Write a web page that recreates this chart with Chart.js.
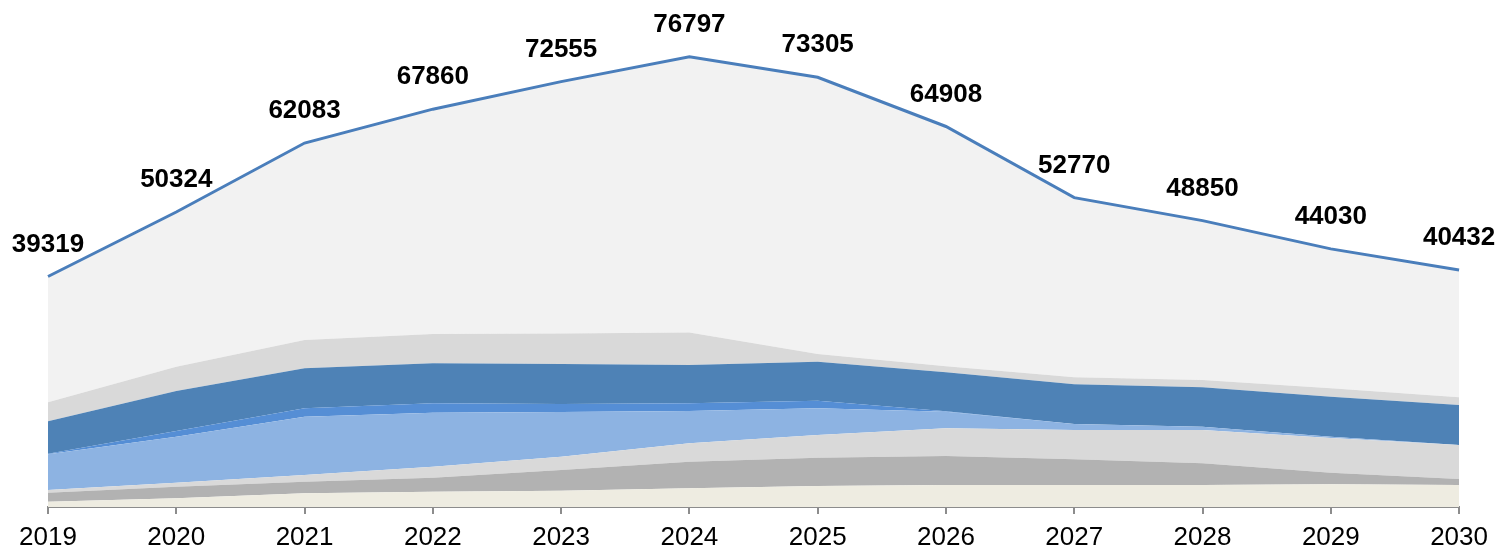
<!DOCTYPE html>
<html>
<head>
<meta charset="utf-8">
<title>Stacked area</title>
<script src="https://cdn.jsdelivr.net/npm/chart.js@4.4.1/dist/chart.umd.min.js"></script>
<style>
    html, body { margin: 0; padding: 0; background: #fff; }
    #wrap { width: 1499px; height: 549px; position: relative; }
</style>
</head>
<body>
<div id="wrap"><canvas id="myChart"></canvas></div>
<script>
const years = ['2019', '2020', '2021', '2022', '2023', '2024', '2025', '2026', '2027', '2028', '2029', '2030'];

// 合計 (上の線とラベル)
const totalValues = [39319, 50324, 62083, 67860, 72555, 76797, 73305, 64908, 52770, 48850, 44030, 40432];

// 下から順に積み上げる層
const creamValues = [904, 1483, 2336, 2609, 2779, 3188, 3581, 3751, 3751, 3751, 3870, 3751];
const darkGrayValues = [1535, 1978, 1978, 2387, 3529, 4535, 4825, 4945, 4382, 3700, 1978, 1023];
const lightGrayValues = [460, 682, 1142, 1876, 2268, 3137, 3870, 4723, 4996, 5678, 5916, 5797];
const lightBlueValues = [6087, 7843, 9940, 9207, 7621, 5507, 4552, 2830, 1023, 563, 222, 0];
const midBlueValues = [85, 972, 1432, 1603, 1364, 1313, 1296, 100, 0, 0, 0, 0];
const darkBlueValues = [5558, 6820, 6820, 6820, 6820, 6530, 6650, 6650, 6769, 6718, 6820, 6820];
const upperGrayValues = [3240, 4143, 4825, 4996, 5234, 5575, 1313, 1023, 1194, 1245, 1432, 1313];

const layers = [
    { data: creamValues, color: '#eeece1' },
    { data: darkGrayValues, color: '#b2b2b2' },
    { data: lightGrayValues, color: '#d9d9d9' },
    { data: lightBlueValues, color: '#8db3e2' },
    { data: midBlueValues, color: '#558ed5' },
    { data: darkBlueValues, color: '#4e82b6' },
    { data: upperGrayValues, color: '#d9d9d9' }
];

const datasets = layers.map(function (layer, i) {
    return {
        data: layer.data,
        backgroundColor: layer.color,
        borderWidth: 0,
        pointRadius: 0,
        fill: i === 0 ? 'origin' : '-1',
        stack: 'layers'
    };
});

// 合計線は別スタックにして、直前の層との間を薄いグレーで塗る
datasets.push({
    data: totalValues,
    borderColor: '#4a7ebb',
    borderWidth: 3,
    backgroundColor: '#f2f2f2',
    pointRadius: 0,
    fill: '-1',
    stack: 'total'
});

const totalLabels = {
    id: 'totalLabels',
    afterDatasetsDraw(chart) {
        const meta = chart.getDatasetMeta(datasets.length - 1);
        const ctx = chart.ctx;
        ctx.save();
        ctx.font = 'bold 26px "Liberation Sans", Arial, sans-serif';
        ctx.fillStyle = '#000';
        ctx.textAlign = 'center';
        ctx.textBaseline = 'middle';
        meta.data.forEach(function (pt, i) {
            ctx.fillText(String(totalValues[i]), pt.x, pt.y - 32);
        });
        ctx.restore();
    }
};

const config = {
    type: 'line',
    data: { labels: years, datasets: datasets },
    options: {
        responsive: true,
        maintainAspectRatio: false,
        animation: false,
        layout: { padding: { left: 48, right: 38, top: 38, bottom: 0 } },
        plugins: {
            legend: { display: false },
            tooltip: { enabled: false },
            filler: { propagate: false }
        },
        elements: { line: { tension: 0 } },
        scales: {
            x: {
                offset: false,
                grid: { display: true, drawOnChartArea: false, drawTicks: true, tickLength: 7, color: '#8c8c8c', lineWidth: 2 },
                border: { display: true, color: '#8c8c8c', width: 2 },
                ticks: {
                    color: '#000',
                    padding: 11,
                    font: { family: '"Liberation Sans", Arial, sans-serif', size: 26, lineHeight: 1 },
                    maxRotation: 0,
                    autoSkip: false
                },
                afterFit: function (scale) { scale.height = 42; }
            },
            y: {
                display: false,
                stacked: true,
                min: 0,
                max: 80000
            }
        }
    },
    plugins: [totalLabels]
};

window.onload = function () {
    new Chart(document.getElementById('myChart'), config);
};
</script>
</body>
</html>
